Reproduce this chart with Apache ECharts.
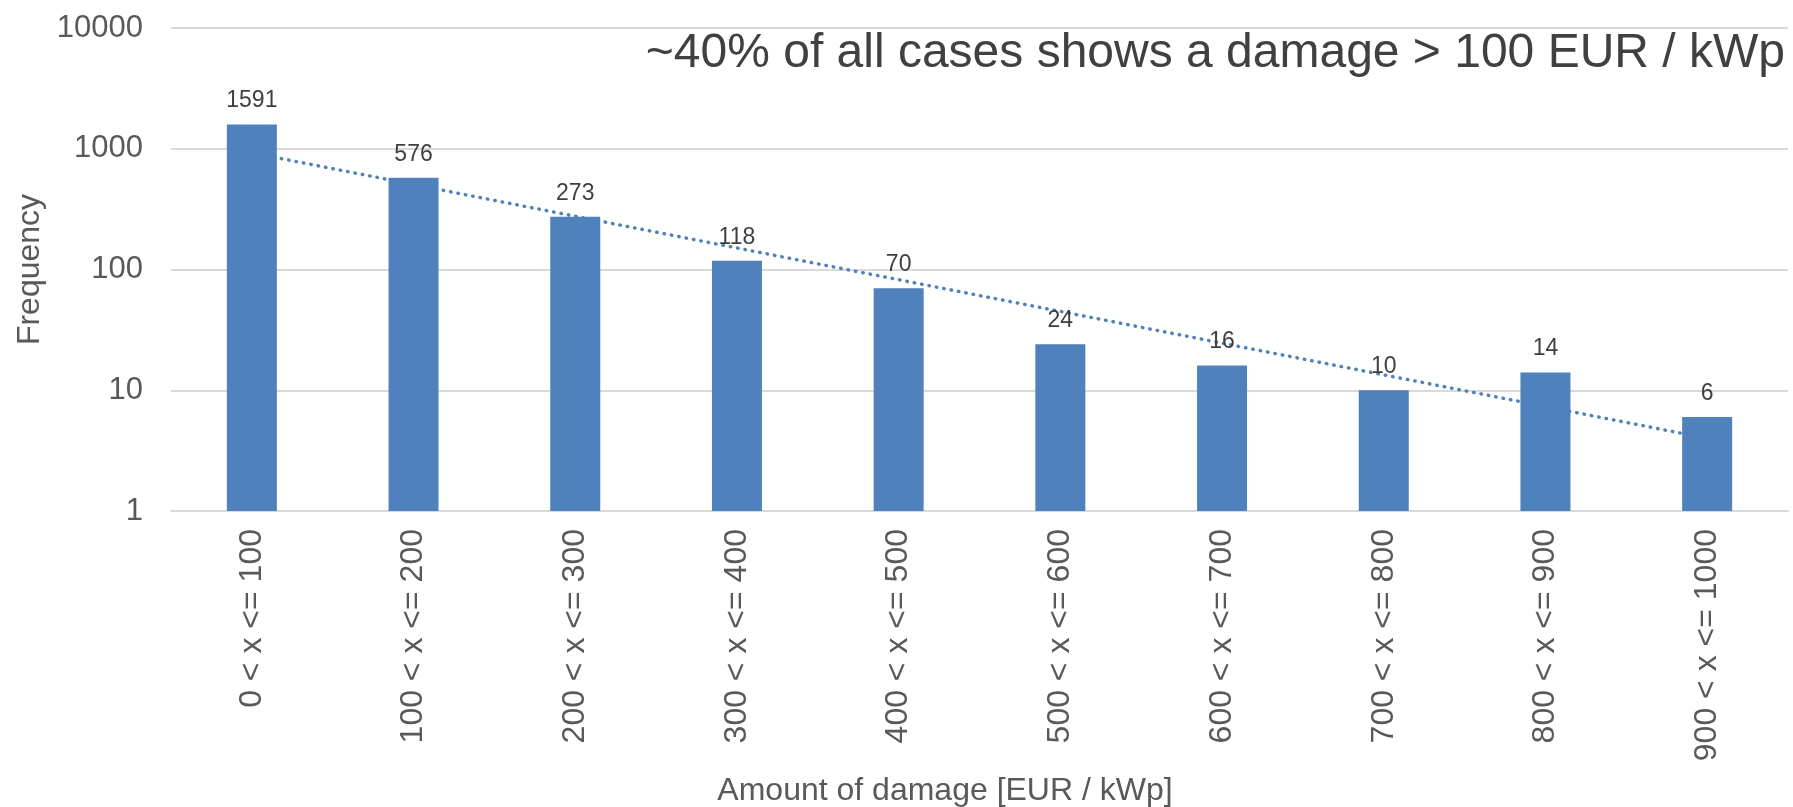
<!DOCTYPE html>
<html>
<head>
<meta charset="utf-8">
<script src="https://cdn.jsdelivr.net/npm/echarts@6/dist/echarts.min.js"></script>
<style>
html,body{margin:0;padding:0;background:#fff;}
#chart{width:1793px;height:807px;}
</style>
</head>
<body>
<div id="chart"></div>
<script>
const categories = ['0 < x <= 100','100 < x <= 200','200 < x <= 300','300 < x <= 400','400 < x <= 500','500 < x <= 600','600 < x <= 700','700 < x <= 800','800 < x <= 900','900 < x <= 1000'];
const frequency = [1591, 576, 273, 118, 70, 24, 16, 10, 14, 6];
// exponential trend line endpoints (first and last category)
const trendEnds = [925, 4.0];
const yTicks = [1, 10, 100, 1000, 10000];
const annotation = '~40% of all cases shows a damage > 100 EUR / kWp';
const xTitle = 'Amount of damage [EUR / kWp]';
const yTitle = 'Frequency';

const trendData = categories.map((c, i) => i === 0 ? trendEnds[0] : (i === categories.length - 1 ? trendEnds[1] : '-'));

const font = 'Liberation Sans, Arial, sans-serif';
const chart = echarts.init(document.getElementById('chart'), null, {renderer: 'canvas'});
chart.setOption({
  animation: false,
  backgroundColor: '#ffffff',
  textStyle: {fontFamily: font},
  grid: {left: 171, right: 5, top: 28, bottom: 296, containLabel: false, outerBoundsMode: 'none'},
  xAxis: {
    type: 'category',
    data: categories,
    name: xTitle,
    nameLocation: 'middle',
    nameGap: 264,
    nameTextStyle: {fontSize: 32, color: '#595959', fontFamily: font, padding: [0, 69, 0, 0]},
    axisLine: {show: true, lineStyle: {color: '#D9D9D9', width: 2}},
    axisTick: {show: false},
    axisLabel: {rotate: 90, interval: 0, fontSize: 32, color: '#595959', margin: 18, fontFamily: font},
    splitLine: {show: false}
  },
  yAxis: {
    type: 'log',
    logBase: 10,
    min: yTicks[0],
    max: yTicks[yTicks.length - 1],
    name: yTitle,
    nameLocation: 'middle',
    nameGap: 124,
    nameTextStyle: {fontSize: 32, color: '#595959', fontFamily: font},
    axisLine: {show: false},
    axisTick: {show: false},
    axisLabel: {fontSize: 31, color: '#595959', margin: 28, fontFamily: font,
      formatter: v => String(Math.round(v))},
    splitLine: {show: true, lineStyle: {color: '#D9D9D9', width: 2}}
  },
  series: [
    {
      name: 'Trend',
      type: 'line',
      data: trendData,
      connectNulls: true,
      symbol: 'none',
      z: 1,
      lineStyle: {color: '#4F81BD', width: 3.5, type: [0.5, 7], cap: 'round'},
      silent: true
    },
    {
      name: 'Frequency',
      type: 'bar',
      data: frequency,
      barWidth: 50,
      z: 2,
      itemStyle: {color: '#4F81BD'},
      label: {show: true, position: 'top', distance: 12, fontSize: 23, color: '#404040', fontFamily: font}
    }
  ],
  graphic: [{
    type: 'text',
    right: 8,
    top: 30,
    style: {text: annotation, fontSize: 48, fill: '#404040', fontFamily: font}
  }]
});
</script>
</body>
</html>
